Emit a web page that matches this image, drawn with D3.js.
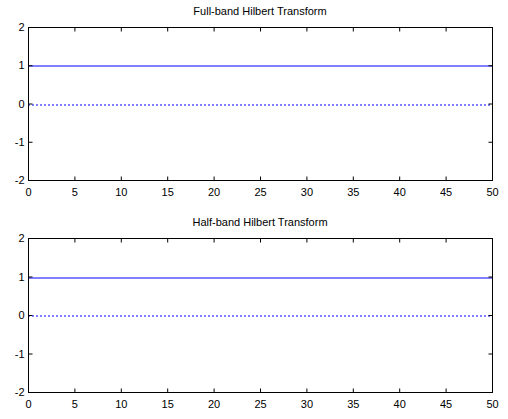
<!DOCTYPE html>
<html>
<head>
<meta charset="utf-8">
<script src="https://cdn.jsdelivr.net/npm/d3@7"></script>
<style>
  html, body { margin: 0; padding: 0; background: #fff; }
  svg { display: block; font-family: "Liberation Sans", Arial, sans-serif; }
</style>
</head>
<body>
<svg id="chart" width="508" height="419"></svg>
<script>
// Sample positions and the two responses shown in each panel
const samples = [0, 5, 10, 15, 20, 25, 30, 35, 40, 45, 50];
const fullMagnitude = [1, 1, 1, 1, 1, 1, 1, 1, 1, 1, 1];
const fullImag = [0, 0, 0, 0, 0, 0, 0, 0, 0, 0, 0];
const halfMagnitude = [1, 1, 1, 1, 1, 1, 1, 1, 1, 1, 1];
const halfImag = [0, 0, 0, 0, 0, 0, 0, 0, 0, 0, 0];
const titles = ["Full-band Hilbert Transform", "Half-band Hilbert Transform"];
const xTicks = [0, 5, 10, 15, 20, 25, 30, 35, 40, 45, 50];
const yTicks = [-2, -1, 0, 1, 2];

const panels = [
  { title: titles[0], solid: fullMagnitude, dotted: fullImag, top: 27, bottom: 180 },
  { title: titles[1], solid: halfMagnitude, dotted: halfImag, top: 238, bottom: 392 }
];

const svg = d3.select("#chart");
const left = 28, right = 492;
const tickLen = 4;
// traces sit on a pixel boundary, giving a soft blue line
const soft = v => Math.round(v) + 1;
// plain hyphen-minus for negative tick labels
const fmt = d => String(d);

panels.forEach(p => {
  const x = d3.scaleLinear().domain([0, 50]).range([left, right]);
  const y = d3.scaleLinear().domain([-2, 2]).range([p.bottom, p.top]);
  const g = svg.append("g");

  // data lines
  const line = d3.line().x((d, i) => x(samples[i])).y(d => soft(y(d)));
  g.append("path").datum(p.solid)
    .attr("d", line).attr("fill", "none")
    .attr("stroke", "#0000ff").attr("stroke-width", 1.2);
  g.append("path").datum(p.dotted)
    .attr("d", line).attr("fill", "none")
    .attr("stroke", "#0000ff").attr("stroke-width", 1.2)
    .attr("stroke-dasharray", "2,2");

  // axes with inward ticks on all four sides
  const styleAxis = sel => {
    sel.select(".domain").remove();
    sel.selectAll("line").attr("stroke", "#000").attr("stroke-width", 1);
    sel.selectAll("text").attr("fill", "#000").style("font-size", "11px")
      .style("font-family", "'Liberation Sans', Arial, sans-serif");
  };
  g.append("g").attr("transform", `translate(0,${p.bottom + 0.5})`)
    .call(d3.axisBottom(x).tickValues(xTicks).tickFormat(fmt)
      .tickSizeInner(-tickLen).tickSizeOuter(0).tickPadding(8))
    .call(styleAxis);
  g.append("g").attr("transform", `translate(0,${p.top + 0.5})`)
    .call(d3.axisTop(x).tickValues(xTicks).tickSizeInner(-tickLen).tickSizeOuter(0).tickFormat(""))
    .call(styleAxis);
  g.append("g").attr("transform", `translate(${left + 0.5},0)`)
    .call(d3.axisLeft(y).tickValues(yTicks).tickFormat(fmt)
      .tickSizeInner(-tickLen).tickSizeOuter(0).tickPadding(4))
    .call(styleAxis);
  g.append("g").attr("transform", `translate(${right + 0.5},0)`)
    .call(d3.axisRight(y).tickValues(yTicks).tickSizeInner(-tickLen).tickSizeOuter(0).tickFormat(""))
    .call(styleAxis);

  // frame
  g.append("rect")
    .attr("x", left + 0.5).attr("y", p.top + 0.5)
    .attr("width", right - left).attr("height", p.bottom - p.top)
    .attr("fill", "none").attr("stroke", "#000").attr("stroke-width", 1);

  g.append("text")
    .attr("x", (left + right) / 2).attr("y", p.top - 12)
    .attr("text-anchor", "middle")
    .style("font-size", "11px")
    .text(p.title);
});
</script>
</body>
</html>
